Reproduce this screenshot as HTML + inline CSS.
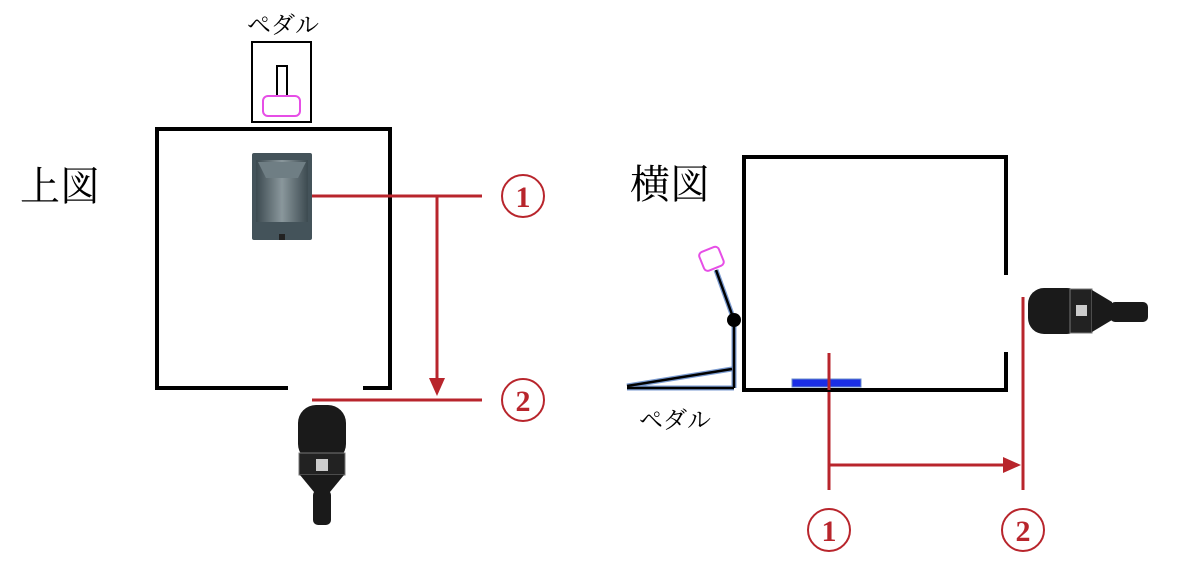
<!DOCTYPE html>
<html><head><meta charset="utf-8"><style>
body{margin:0;background:#fff;width:1194px;height:570px;overflow:hidden}
text{font-family:"Liberation Serif","Noto Serif CJK SC",serif}
</style></head><body>
<svg width="1194" height="570" xmlns="http://www.w3.org/2000/svg">
<defs>
<linearGradient id="spk" x1="0" x2="1"><stop offset="0" stop-color="#3c4a50"/><stop offset="0.5" stop-color="#8a979c"/><stop offset="1" stop-color="#3c4a50"/></linearGradient>
</defs>
<text x="20" y="200" font-size="40" font-family="Noto Sans CJK JP">上図</text>
<text x="630" y="198" font-size="40" font-family="Noto Sans CJK JP">横図</text>
<text x="247" y="33" font-size="24" font-family="Noto Sans CJK JP">ペダル</text>
<text x="639" y="428" font-size="24" font-family="Noto Sans CJK JP">ペダル</text>

<g stroke="#000" stroke-width="4" fill="none">
<polyline points="288,388 157,388 157,129 390,129 390,388 363,388"/>
</g>
<rect x="252" y="42" width="59" height="80" fill="none" stroke="#000" stroke-width="2"/>
<rect x="277" y="66" width="10" height="30" fill="none" stroke="#000" stroke-width="2"/>
<rect x="263" y="96" width="37" height="20" rx="5" fill="#fff" stroke="#e64ee6" stroke-width="2"/>
<rect x="252" y="153" width="60" height="87" rx="2" fill="#44535a"/>
<rect x="256" y="160" width="52" height="62" fill="url(#spk)"/>
<polygon points="258,162 306,162 298,178 266,178" fill="#6f7e84"/>
<rect x="279" y="234" width="6" height="6" fill="#222"/>

<g stroke="#b8252c" stroke-width="3" fill="none">
<line x1="312" y1="196" x2="482" y2="196"/>
<line x1="312" y1="400" x2="482" y2="400"/>
<line x1="437" y1="196" x2="437" y2="380"/>
<line x1="829" y1="353" x2="829" y2="490"/>
<line x1="1023" y1="297" x2="1023" y2="490"/>
<line x1="829" y1="465" x2="1005" y2="465"/>
</g>
<polygon points="429,378 445,378 437,396" fill="#b8252c"/>
<polygon points="1003,457 1003,473 1021,465" fill="#b8252c"/>
<g fill="none" stroke="#b8252c" stroke-width="2">
<circle cx="523" cy="196" r="21"/><circle cx="523" cy="400" r="21"/>
<circle cx="829" cy="530" r="21"/><circle cx="1023" cy="530" r="21"/>
</g>
<g fill="#b8252c" font-size="30" font-weight="bold" text-anchor="middle">
<text x="523" y="207">1</text><text x="523" y="411">2</text>
<text x="829" y="541">1</text><text x="1023" y="541">2</text>
</g>

<rect x="298" y="405" width="48" height="57" rx="18" fill="#1a1a1a"/>
<rect x="299" y="453" width="46" height="22" fill="#222" stroke="#777" stroke-width="1"/>
<polygon points="300,475 344,475 330,492 314,492" fill="#1a1a1a"/>
<rect x="313" y="490" width="18" height="35" rx="5" fill="#1a1a1a"/>
<rect x="316" y="459" width="12" height="12" fill="#ccc"/>

<g stroke="#000" stroke-width="4" fill="none">
<polyline points="1006,275 1006,157 744,157 744,390 1006,390 1006,352"/>
</g>
<rect x="792" y="379" width="69" height="8" fill="#1a2ee6" stroke="#6a8cc8" stroke-width="1"/>
<line x1="829" y1="353" x2="829" y2="390" stroke="#b8252c" stroke-width="3"/>

<g stroke="#7a9ad0" stroke-width="5" fill="none" stroke-linejoin="round">
<polyline points="627,386 732,369"/>
<line x1="627" y1="388" x2="734" y2="388"/>
<line x1="734" y1="388" x2="734" y2="320"/>
<line x1="734" y1="320" x2="716" y2="270"/>
</g>
<g stroke="#000" stroke-width="2.5" fill="none">
<line x1="627" y1="386" x2="732" y2="369"/>
<line x1="627" y1="388" x2="734" y2="388"/>
<line x1="734" y1="388" x2="734" y2="320"/>
<line x1="734" y1="320" x2="716" y2="270"/>
</g>
<circle cx="734" cy="320" r="7" fill="#000"/>
<rect x="701" y="249" width="21" height="20" rx="4" fill="#fff" stroke="#e64ee6" stroke-width="2" transform="rotate(-22 711 259)"/>

<rect x="1028" y="288" width="55" height="46" rx="16" fill="#1a1a1a"/>
<rect x="1070" y="289" width="22" height="44" fill="#222" stroke="#777" stroke-width="1"/>
<polygon points="1092,290 1092,332 1112,320 1112,302" fill="#1a1a1a"/>
<rect x="1110" y="302" width="38" height="20" rx="5" fill="#1a1a1a"/>
<rect x="1076" y="305" width="11" height="11" fill="#ccc"/>
</svg>
</body></html>
